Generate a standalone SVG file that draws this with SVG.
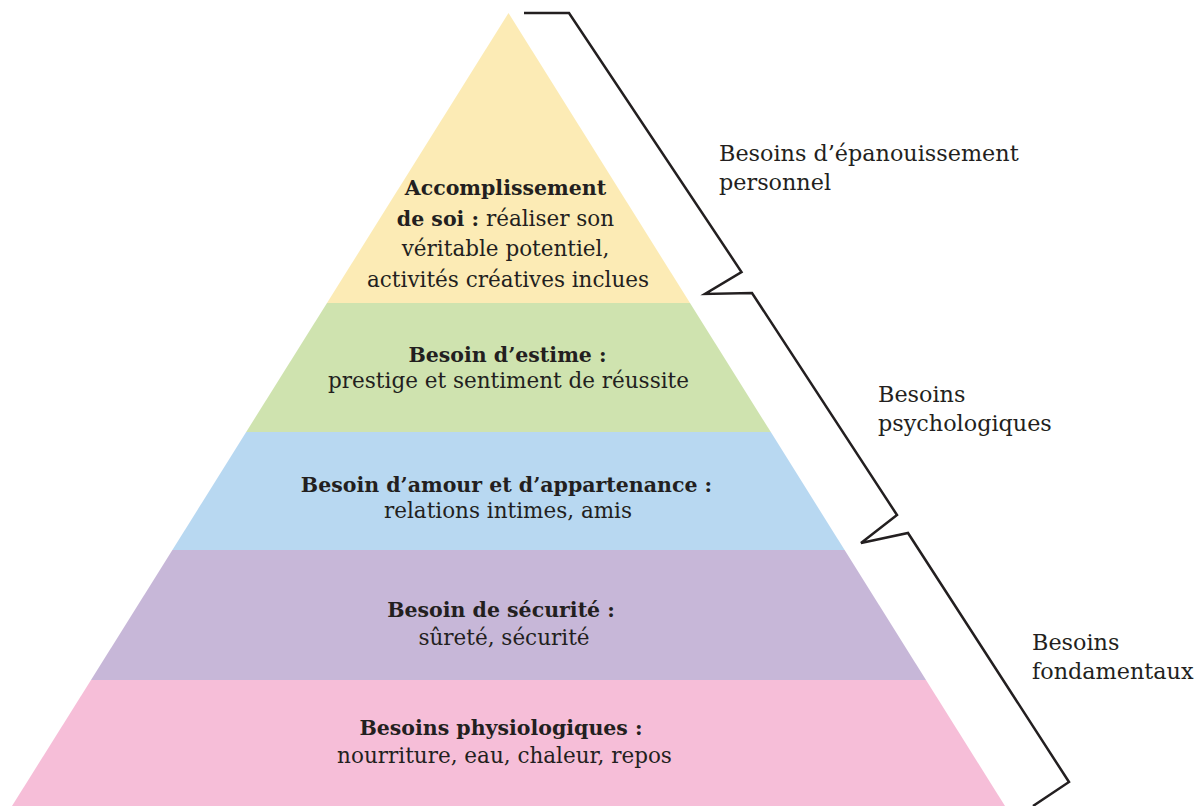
<svg xmlns="http://www.w3.org/2000/svg" width="1202" height="806" viewBox="0 0 1202 806">
<style>
.t{font-family:"DejaVu Serif","Liberation Serif",serif;font-size:21.5px;fill:#231F20;text-anchor:middle}
.b{font-weight:bold;font-size:20.5px}
.l{font-family:"DejaVu Serif","Liberation Serif",serif;font-size:22.3px;fill:#231F20}
.br{fill:none;stroke:#231F20;stroke-width:2.5;stroke-linejoin:miter}
</style>
<rect width="1202" height="806" fill="#fff"/>
<g id="level-accomplissement">
<polygon points="508.5,13 690,303 327,303" fill="#FCEBB5"/>
<text class="t" x="505.5" y="195"><tspan class="b">Accomplissement</tspan></text>
<text class="t" x="505.5" y="225.5"><tspan class="b">de soi :</tspan> réaliser son</text>
<text class="t" x="505.5" y="256">véritable potentiel,</text>
<text class="t" x="508" y="286.5">activités créatives inclues</text>
</g>
<g id="level-estime">
<polygon points="327,303 690,303 770.8,432 246.2,432" fill="#CFE3AF"/>
<text class="t b" x="507.5" y="362">Besoin d’estime :</text>
<text class="t" x="508.5" y="388">prestige et sentiment de réussite</text>
</g>
<g id="level-amour">
<polygon points="246.2,432 770.8,432 844.6,550 172.4,550" fill="#B8D8F1"/>
<text class="t b" x="506.5" y="491.5">Besoin d’amour et d’appartenance :</text>
<text class="t" x="508" y="518">relations intimes, amis</text>
</g>
<g id="level-securite">
<polygon points="172.4,550 844.6,550 926,680 91,680" fill="#C7B7D8"/>
<text class="t b" x="501" y="616.5">Besoin de sécurité :</text>
<text class="t" x="504" y="645">sûreté, sécurité</text>
</g>
<g id="level-physiologiques">
<polygon points="91,680 926,680 1005,806 12,806" fill="#F6BED8"/>
<text class="t b" x="501" y="735">Besoins physiologiques :</text>
<text class="t" x="504.5" y="763">nourriture, eau, chaleur, repos</text>
</g>
<g id="connectors">
<path class="br" d="M524,13 H569 L741.5,272 L705,294 L752,293 L897,515 L861,543 L908,533 L1069,782 L1033,806"/>
</g>
<g id="label-epanouissement">
<text class="l" x="719" y="161">Besoins d’épanouissement</text>
<text class="l" x="719" y="189.5">personnel</text>
</g>
<g id="label-psychologiques">
<text class="l" x="878" y="401.5">Besoins</text>
<text class="l" x="878" y="431">psychologiques</text>
</g>
<g id="label-fondamentaux">
<text class="l" x="1032" y="650">Besoins</text>
<text class="l" x="1032" y="679">fondamentaux</text>
</g>
</svg>
